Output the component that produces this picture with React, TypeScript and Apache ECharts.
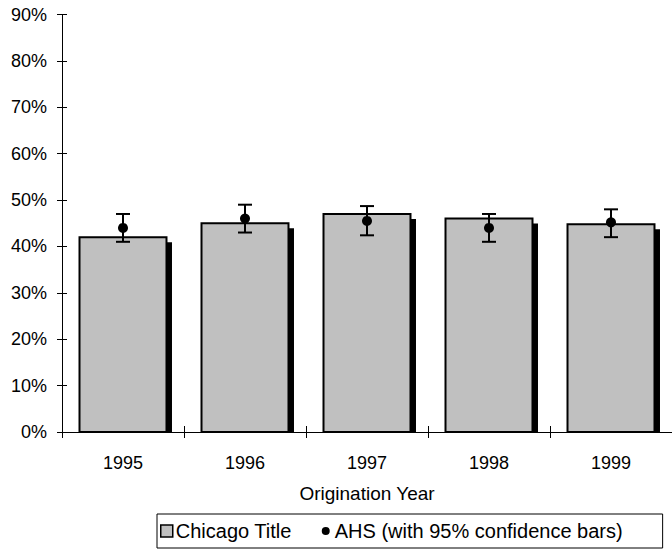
import React, { useEffect, useRef } from "react";
import * as echarts from "echarts";

const years = ["1995", "1996", "1997", "1998", "1999"];
const chicagoTitle = [42, 45, 47, 46, 44.8];
const ahs = [44, 46, 45.5, 44, 45.2];
const ahsLow = [41, 43, 42.4, 41, 42];
const ahsHigh = [47, 49, 48.7, 47, 48];
const yTicks = [0, 10, 20, 30, 40, 50, 60, 70, 80, 90];

const FONT = "'Liberation Sans', Arial, sans-serif";

export default function App() {
  const ref = useRef<HTMLDivElement>(null);
  useEffect(() => {
    if (!ref.current) return;
    const chart = echarts.init(ref.current, null, { renderer: "svg" });
    const yMin = yTicks[0];
    const yMax = yTicks[yTicks.length - 1];
    const yInt = yTicks[1] - yTicks[0];
    const yBase = {
      type: "value",
      min: yMin,
      max: yMax,
      interval: yInt,
      splitLine: { show: false },
    };
    const xBase = {
      type: "category",
      data: years,
      boundaryGap: true,
    };
    chart.setOption({
      animation: false,
      textStyle: { fontFamily: FONT },
      grid: { left: 62, top: 14.5, right: -3.75, bottom: 127, containLabel: false },
      xAxis: [
        {
          ...xBase,
          axisLine: { show: true, lineStyle: { color: "#000", width: 1 } },
          axisTick: { show: true, inside: false, length: 6, lineStyle: { color: "#000" } },
          axisLabel: { color: "#000", fontSize: 18, fontFamily: FONT, margin: 22 },
          name: "Origination Year",
          nameLocation: "middle",
          nameGap: 52,
          nameTextStyle: { color: "#000", fontSize: 19, fontFamily: FONT },
        },
        {
          ...xBase,
          position: "bottom",
          axisLine: { show: false },
          axisTick: { show: true, inside: true, length: 6, lineStyle: { color: "#000" } },
          axisLabel: { show: false },
        },
      ],
      yAxis: [
        {
          ...yBase,
          position: "left",
          axisLine: { show: true, lineStyle: { color: "#000", width: 1 } },
          axisTick: { show: true, inside: false, length: 5, lineStyle: { color: "#000" } },
          axisLabel: {
            color: "#000",
            fontSize: 18,
            fontFamily: FONT,
            margin: 15,
            formatter: (v: number) => `${v}%`,
          },
        },
        {
          ...yBase,
          position: "left",
          axisLine: { show: false },
          axisTick: { show: true, inside: true, length: 5, lineStyle: { color: "#000" } },
          axisLabel: { show: false },
        },
      ],
      legend: {
        left: 157,
        top: 514,
        orient: "horizontal",
        borderColor: "#000",
        borderWidth: 1,
        borderRadius: 0,
        padding: [7, 40, 7, 3],
        itemGap: 28,
        itemWidth: 12,
        itemHeight: 12,
        textStyle: { color: "#000", fontSize: 20, fontFamily: FONT, padding: [0, 0, 0, -2] },
        data: [
          {
            name: "Chicago Title",
            icon: "rect",
            itemStyle: { color: "#c0c0c0", borderColor: "#000", borderWidth: 1.5 },
          },
          {
            name: "AHS (with 95% confidence bars)",
            icon: "path://M0 0M12 12M2 6a4 4 0 1 0 8 0a4 4 0 1 0 -8 0z",
            itemStyle: { color: "#000", borderWidth: 0 },
          },
        ],
      },
      series: [
        {
          name: "Chicago Title",
          type: "custom",
          xAxisIndex: 0,
          yAxisIndex: 0,
          data: years.map((y, i) => [i, chicagoTitle[i]]),
          encode: { x: 0, y: 1 },
          renderItem: (params: any, api: any) => {
            const idx = api.value(0);
            const top = api.coord([idx, api.value(1)]);
            const base = api.coord([idx, 0]);
            const w = api.size([1, 0])[0] * 0.713;
            const h = base[1] - top[1];
            return {
              type: "group",
              children: [
                {
                  type: "rect",
                  shape: { x: top[0] - w / 2 + 5.5, y: top[1] + 5, width: w, height: h - 5 },
                  style: { fill: "#000" },
                },
                {
                  type: "rect",
                  shape: { x: top[0] - w / 2, y: top[1], width: w, height: h },
                  style: { fill: "#c0c0c0", stroke: "#000", lineWidth: 2 },
                },
              ],
            };
          },
        },
        {
          name: "AHS (with 95% confidence bars)",
          type: "custom",
          xAxisIndex: 0,
          yAxisIndex: 0,
          z: 5,
          data: years.map((y, i) => [i, ahs[i], ahsLow[i], ahsHigh[i]]),
          encode: { x: 0, y: [1, 2, 3] },
          renderItem: (params: any, api: any) => {
            const idx = api.value(0);
            const pt = api.coord([idx, api.value(1)]);
            const lo = api.coord([idx, api.value(2)]);
            const hi = api.coord([idx, api.value(3)]);
            const cap = 7;
            const ls = { stroke: "#000", lineWidth: 2 };
            return {
              type: "group",
              children: [
                { type: "line", shape: { x1: lo[0], y1: lo[1], x2: hi[0], y2: hi[1] }, style: ls },
                { type: "line", shape: { x1: hi[0] - cap, y1: hi[1], x2: hi[0] + cap, y2: hi[1] }, style: ls },
                { type: "line", shape: { x1: lo[0] - cap, y1: lo[1], x2: lo[0] + cap, y2: lo[1] }, style: ls },
                { type: "circle", shape: { cx: pt[0], cy: pt[1], r: 5 }, style: { fill: "#000" } },
              ],
            };
          },
        },
      ],
    });
    return () => chart.dispose();
  }, []);
  return (
    <div
      ref={ref}
      style={{ position: "absolute", left: 0, top: 0, width: 672, height: 559, overflow: "hidden" }}
    />
  );
}
